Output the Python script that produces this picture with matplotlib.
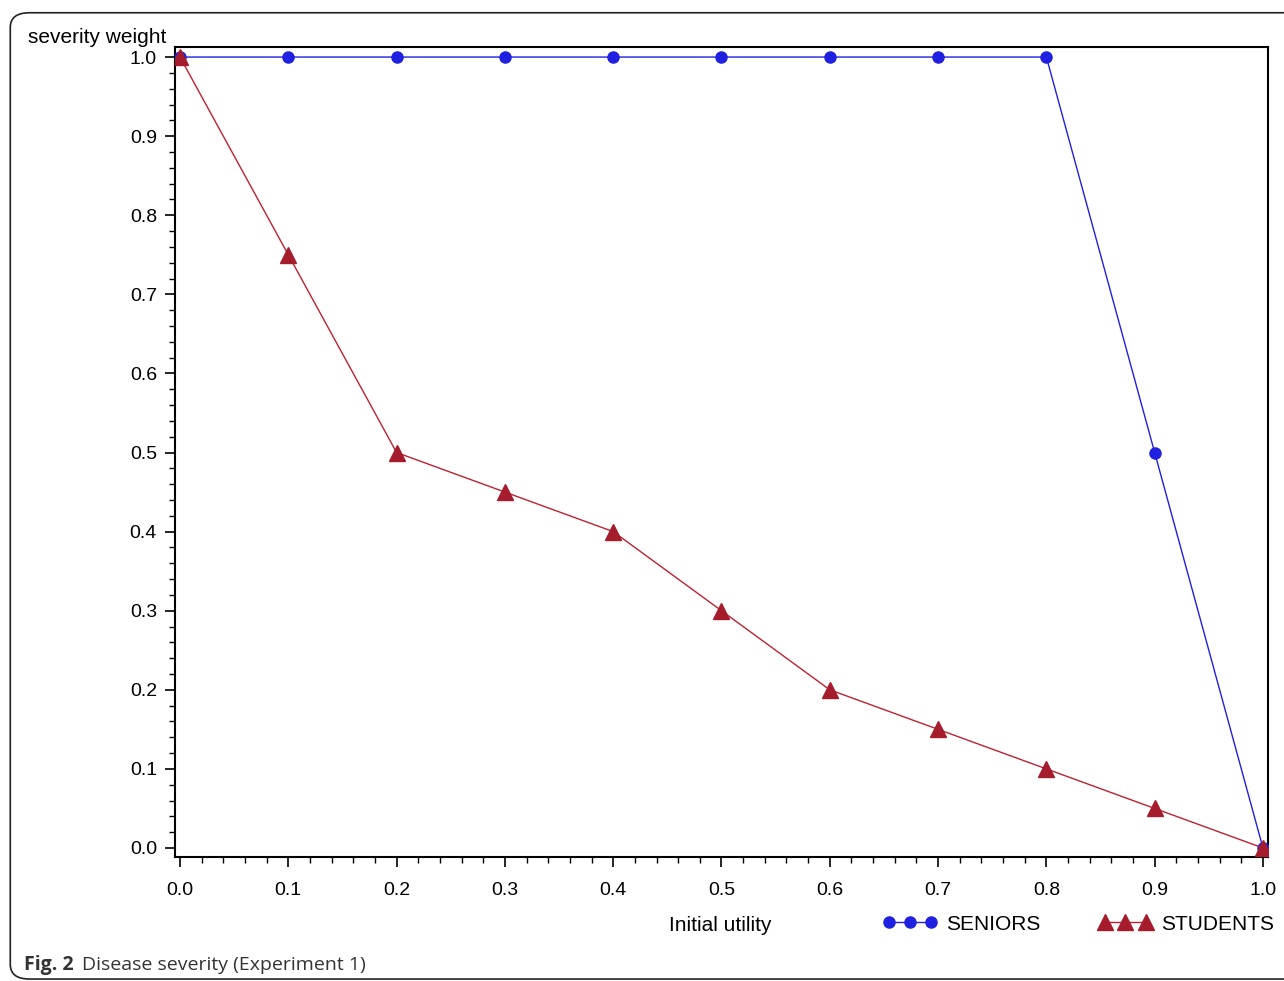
import matplotlib.pyplot as plt
from matplotlib.patches import FancyBboxPatch
from matplotlib.ticker import MultipleLocator

utility = [0.0, 0.1, 0.2, 0.3, 0.4, 0.5, 0.6, 0.7, 0.8, 0.9, 1.0]
seniors = [1.0, 1.0, 1.0, 1.0, 1.0, 1.0, 1.0, 1.0, 1.0, 0.5, 0.0]
students = [1.0, 0.75, 0.5, 0.45, 0.4, 0.3, 0.2, 0.15, 0.1, 0.05, 0.0]

plt.rcParams['font.family'] = ['Liberation Sans', 'DejaVu Sans']
fig = plt.figure(figsize=(12.84, 9.81), dpi=100)

# rounded outer frame
frame = FancyBboxPatch((0.008, 0.002), 1.2, 0.985, boxstyle="round,pad=0,rounding_size=0.015",
                       transform=fig.transFigure, fill=False, edgecolor="#222222", linewidth=1.2)
fig.patches.append(frame)

ax = fig.add_axes([0.1363, 0.1264, 0.8512, 0.8256])
ax.plot(utility, seniors, color="#2020e0", linewidth=1, marker="o", markersize=8,
        zorder=3, label="SENIORS")
ax.plot(utility, students, color="#c02030", linewidth=1, marker="^", markersize=12,
        markerfacecolor="#a51d2d", markeredgecolor="#a51d2d", zorder=4, label="STUDENTS")

ax.set_xlim(-0.0046, 1.0046)
ax.set_ylim(-0.0114, 1.0126)
ax.xaxis.set_major_locator(MultipleLocator(0.1))
ax.xaxis.set_minor_locator(MultipleLocator(0.02))
ax.yaxis.set_major_locator(MultipleLocator(0.1))
ax.yaxis.set_minor_locator(MultipleLocator(0.02))
ax.xaxis.set_major_formatter(plt.FuncFormatter(lambda v, p: f"{v:.1f}"))
ax.yaxis.set_major_formatter(plt.FuncFormatter(lambda v, p: f"{v:.1f}"))
ax.tick_params(which="major", length=7, width=1.2, labelsize=14, direction="out", pad=6)
ax.tick_params(axis="x", which="major", pad=11)
ax.tick_params(which="minor", length=4, width=1, direction="out")
for s in ax.spines.values():
    s.set_linewidth(1.5)

fig.text(0.022, 0.952, "severity weight", fontsize=15, va="bottom")
fig.text(0.561, 0.057, "Initial utility", fontsize=15, ha="center", va="center")

h, l = ax.get_legend_handles_labels()
fig.legend(h, l, loc="center", bbox_to_anchor=(0.84, 0.058), numpoints=3,
           ncol=2, frameon=False, fontsize=15, handlelength=2.6, handletextpad=0.4,
           columnspacing=2.8)

fig.text(0.019, 0.011, "Fig. 2", fontsize=14, fontweight="bold",
         color="#333333", family=["Open Sans", "DejaVu Sans"])
fig.text(0.0635, 0.011, "Disease severity (Experiment 1)", fontsize=14,
         color="#333333", family=["Open Sans", "DejaVu Sans"])

fig.savefig("out.png", dpi=100)
